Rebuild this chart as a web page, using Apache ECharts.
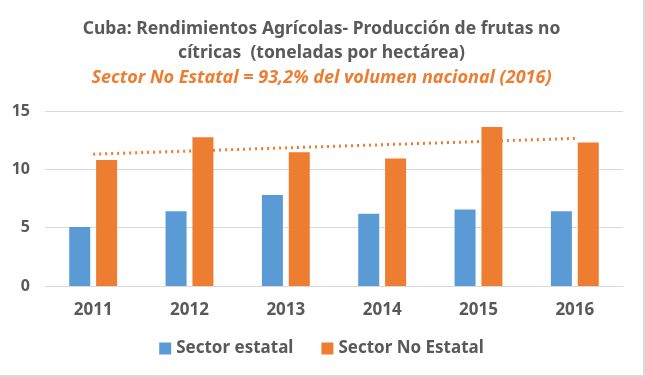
<!DOCTYPE html>
<html>
<head>
<meta charset="utf-8">
<script src="https://cdn.jsdelivr.net/npm/echarts@6/dist/echarts.min.js"></script>
<style>
  html, body { margin: 0; padding: 0; background: #fff; }
  #chart { width: 645px; height: 377px; box-sizing: border-box; border-right: 2px solid #d9d9d9; border-bottom: 2px solid #d9d9d9; }
</style>
</head>
<body>
<div id="chart"></div>
<script>
const years = ["2011", "2012", "2013", "2014", "2015", "2016"];
const estatal = [5.05, 6.4, 7.8, 6.2, 6.55, 6.4];
const noEstatal = [10.8, 12.75, 11.47, 10.93, 13.62, 12.31];
// trend line endpoints
const trendNoEstatal = [11.3, null, null, null, null, 12.65];
const yTicks = [0, 5, 10, 15];

const gray = "#595959";
const blue = "#5B9BD5";
const orange = "#ED7D31";
const font = "'Noto Sans', sans-serif";

const chart = echarts.init(document.getElementById("chart"));

chart.setOption({
  animation: false,
  title: [
    {
      text: "Cuba: Rendimientos Agrícolas- Producción de frutas no\ncítricas  (toneladas por hectárea)",
      left: "center",
      top: 12,
      textStyle: { fontFamily: font, fontSize: 17.5, fontWeight: "bold", color: gray, lineHeight: 24 },
    },
    {
      text: "Sector No Estatal = 93,2% del volumen nacional (2016)",
      left: "center",
      top: 64,
      textStyle: { fontFamily: font, fontSize: 18, fontWeight: "bold", fontStyle: "italic", color: orange },
    },
  ],
  grid: { left: 45, right: 20, top: 111, bottom: 89 },
  legend: {
    data: ["Sector estatal", "Sector No Estatal"],
    bottom: 13,
    left: "center",
    itemWidth: 12,
    itemHeight: 12,
    itemGap: 28,
    icon: "rect",
    textStyle: { fontFamily: font, fontSize: 17, fontWeight: "bold", color: gray },
  },
  xAxis: {
    type: "category",
    data: years,
    axisLine: { lineStyle: { color: "#d9d9d9", width: 1 } },
    axisTick: { show: false },
    axisLabel: { fontFamily: font, fontSize: 17, fontWeight: "bold", color: gray, margin: 16 },
  },
  yAxis: {
    type: "value",
    min: yTicks[0],
    max: yTicks[yTicks.length - 1],
    interval: 5,
    axisLine: { show: false },
    axisTick: { show: false },
    splitLine: { lineStyle: { color: "#d9d9d9", width: 1 } },
    axisLabel: { fontFamily: font, fontSize: 16, fontWeight: "bold", color: gray, margin: 15 },
  },
  series: [
    {
      name: "Sector estatal",
      type: "bar",
      data: estatal,
      barWidth: 21,
      barGap: "28%",
      itemStyle: { color: blue },
    },
    {
      name: "Sector No Estatal",
      type: "bar",
      data: noEstatal,
      barWidth: 21,
      itemStyle: { color: orange },
    },
    {
      name: "Tendencia",
      type: "line",
      data: trendNoEstatal,
      connectNulls: true,
      showSymbol: false,
      symbol: "none",
      lineStyle: { color: orange, width: 3, type: [2, 4] },
      z: 5,
    },
  ],
});
</script>
</body>
</html>
